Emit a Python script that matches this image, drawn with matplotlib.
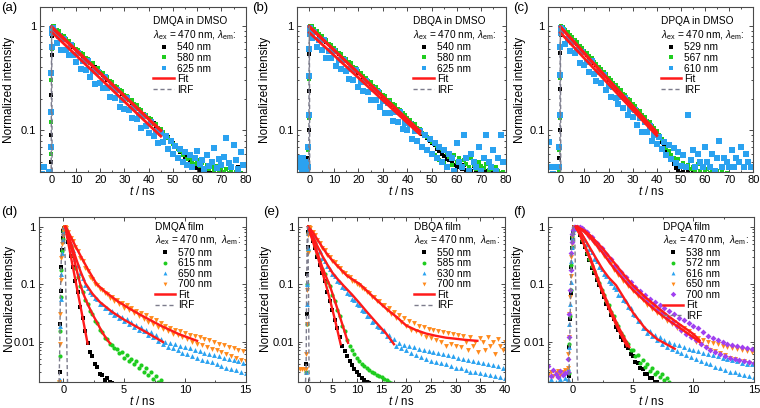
import numpy as np
import matplotlib
matplotlib.use("Agg")
import matplotlib.pyplot as plt
from matplotlib.lines import Line2D
from matplotlib.ticker import FixedLocator, FuncFormatter, LogLocator, MultipleLocator

plt.rcParams['font.family'] = ['Liberation Sans', 'DejaVu Sans']
plt.rcParams['mathtext.fontset'] = 'custom'
plt.rcParams['mathtext.rm'] = 'Liberation Sans'
plt.rcParams['mathtext.it'] = 'Liberation Sans:italic'
plt.rcParams['mathtext.bf'] = 'Liberation Sans:bold'

# ---------------- time channels ----------------
t_top = np.concatenate([np.arange(-4.5, -0.9, 0.5), np.arange(-0.6, 0.5, 0.15), np.arange(1, 80, 1.0)])
t_df = np.concatenate([np.arange(-2.0, -0.5, 0.2), np.arange(-0.4, 0.16, 0.05), np.arange(0.2, 15.01, 0.2)])
t_e = np.concatenate([[-2.0, -1.6, -1.2, -0.8], np.arange(-0.4, 0.35, 0.1), np.arange(0.5, 40.01, 0.5)])

# ---------------- (a) DMQA in DMSO ----------------
a_540 = ([0.030, 0.031, 0.029, 0.032, 0.030, 0.031, 0.029, 0.033] +
         [0.036, 0.050, 0.090, 0.220, 0.520, 0.800, 0.940, 0.990] +
         [0.970, 0.905, 0.872, 0.815, 0.776, 0.748, 0.695, 0.668, 0.625, 0.604,
          0.566, 0.545, 0.511, 0.493, 0.458, 0.444, 0.414, 0.401, 0.374, 0.362,
          0.337, 0.326, 0.303, 0.295, 0.273, 0.267, 0.246, 0.241, 0.222, 0.218,
          0.201, 0.196, 0.181, 0.177, 0.163, 0.160, 0.147, 0.144, 0.133, 0.130,
          0.120, 0.117, 0.108, 0.106, 0.097, 0.094, 0.087, 0.086, 0.078, 0.076,
          0.071, 0.068, 0.062, 0.060, 0.056, 0.054, 0.050, 0.048, 0.046, 0.044,
          0.042, 0.043, 0.041, 0.040, 0.042, 0.039, 0.040, 0.038, 0.041, 0.037,
          0.039, 0.038, 0.036, 0.040, 0.037, 0.038, 0.045, 0.036, 0.037])
a_580 = ([0.031, 0.029, 0.033, 0.030, 0.032, 0.029, 0.031, 0.030] +
         [0.040, 0.060, 0.120, 0.300, 0.600, 0.860, 0.970, 1.000] +
         [0.985, 0.915, 0.893, 0.822, 0.801, 0.748, 0.722, 0.663, 0.655, 0.600,
          0.592, 0.543, 0.537, 0.491, 0.481, 0.444, 0.436, 0.398, 0.397, 0.363,
          0.357, 0.327, 0.321, 0.295, 0.290, 0.266, 0.261, 0.241, 0.236, 0.217,
          0.214, 0.197, 0.193, 0.177, 0.174, 0.159, 0.157, 0.144, 0.141, 0.130,
          0.128, 0.116, 0.115, 0.105, 0.103, 0.096, 0.090, 0.084, 0.081, 0.074,
          0.072, 0.066, 0.064, 0.058, 0.061, 0.053, 0.055, 0.050, 0.048, 0.052,
          0.046, 0.049, 0.044, 0.047, 0.043, 0.045, 0.042, 0.046, 0.041, 0.044,
          0.040, 0.043, 0.039, 0.041, 0.038, 0.040, 0.037, 0.039, 0.038])
a_625 = ([0.036, 0.038, 0.035, 0.045, 0.037, 0.034, 0.036, 0.039] +
         [0.040, 0.070, 0.150, 0.350, 0.620, 0.850, 0.930, 0.960] +
         [0.900, 0.680, 0.790, 0.590, 0.750, 0.590, 0.520, 0.650, 0.530, 0.455,
          0.546, 0.383, 0.462, 0.381, 0.458, 0.321, 0.368, 0.278, 0.358, 0.284,
          0.252, 0.324, 0.252, 0.210, 0.258, 0.203, 0.243, 0.169, 0.197, 0.161,
          0.202, 0.155, 0.132, 0.165, 0.129, 0.141, 0.105, 0.136, 0.109, 0.095,
          0.120, 0.089, 0.099, 0.076, 0.095, 0.078, 0.088, 0.066, 0.079, 0.060,
          0.071, 0.055, 0.066, 0.050, 0.062, 0.047, 0.058, 0.045, 0.055, 0.063,
          0.048, 0.052, 0.043, 0.058, 0.046, 0.050, 0.068, 0.044, 0.053, 0.047,
          0.056, 0.085, 0.049, 0.045, 0.072, 0.052, 0.043, 0.062, 0.047])
fit_t_a = [0, 45]
fit_a_540 = [0.98, 0.100]
fit_a_580 = [0.96, 0.099]
fit_a_625 = [0.87, 0.088]

# ---------------- (b) DBQA in DMSO ----------------
b_540 = ([0.031, 0.030, 0.032, 0.029, 0.031, 0.030, 0.032, 0.030] +
         [0.035, 0.055, 0.100, 0.240, 0.540, 0.820, 0.950, 0.990] +
         [0.968, 0.915, 0.866, 0.818, 0.781, 0.738, 0.702, 0.664, 0.633, 0.598,
          0.571, 0.542, 0.514, 0.490, 0.462, 0.442, 0.417, 0.398, 0.378, 0.357,
          0.343, 0.322, 0.309, 0.291, 0.278, 0.262, 0.252, 0.236, 0.227, 0.213,
          0.206, 0.193, 0.185, 0.174, 0.167, 0.157, 0.151, 0.141, 0.137, 0.127,
          0.124, 0.114, 0.111, 0.104, 0.099, 0.092, 0.089, 0.084, 0.080, 0.076,
          0.072, 0.067, 0.064, 0.059, 0.057, 0.053, 0.052, 0.049, 0.047, 0.045,
          0.046, 0.043, 0.047, 0.042, 0.044, 0.041, 0.046, 0.042, 0.040, 0.043,
          0.039, 0.041, 0.038, 0.040, 0.037, 0.039, 0.036, 0.038, 0.037])
b_580 = ([0.030, 0.032, 0.031, 0.029, 0.033, 0.030, 0.031, 0.032] +
         [0.040, 0.065, 0.130, 0.310, 0.610, 0.870, 0.975, 1.000] +
         [0.985, 0.925, 0.892, 0.828, 0.802, 0.752, 0.725, 0.670, 0.652, 0.606,
          0.590, 0.548, 0.535, 0.496, 0.480, 0.448, 0.436, 0.402, 0.394, 0.366,
          0.356, 0.330, 0.320, 0.298, 0.290, 0.268, 0.261, 0.243, 0.235, 0.219,
          0.213, 0.197, 0.193, 0.178, 0.173, 0.160, 0.157, 0.145, 0.141, 0.130,
          0.127, 0.117, 0.114, 0.106, 0.103, 0.095, 0.092, 0.086, 0.083, 0.077,
          0.058, 0.071, 0.052, 0.066, 0.049, 0.061, 0.056, 0.047, 0.058, 0.050,
          0.054, 0.046, 0.052, 0.048, 0.045, 0.055, 0.047, 0.043, 0.050, 0.046,
          0.044, 0.048, 0.042, 0.046, 0.043, 0.045, 0.041, 0.039, 0.040])
b_625 = ([0.055, 0.045, 0.050, 0.041, 0.055, 0.045, 0.050, 0.041] +
         [0.045, 0.070, 0.140, 0.330, 0.600, 0.840, 0.920, 0.950] +
         [0.760, 0.875, 0.626, 0.733, 0.588, 0.728, 0.496, 0.570, 0.491, 0.569,
          0.410, 0.475, 0.385, 0.473, 0.370, 0.308, 0.385, 0.306, 0.377, 0.262,
          0.290, 0.240, 0.295, 0.231, 0.197, 0.246, 0.195, 0.233, 0.167, 0.189,
          0.147, 0.184, 0.147, 0.123, 0.151, 0.120, 0.149, 0.104, 0.117, 0.101,
          0.115, 0.082, 0.098, 0.079, 0.098, 0.070, 0.090, 0.065, 0.082, 0.060,
          0.075, 0.055, 0.070, 0.050, 0.065, 0.045, 0.060, 0.055, 0.041, 0.075,
          0.050, 0.045, 0.090, 0.055, 0.041, 0.060, 0.050, 0.045, 0.070, 0.041,
          0.055, 0.090, 0.050, 0.045, 0.065, 0.041, 0.055, 0.090, 0.050])
fit_t_b = [0, 45]
fit_b_540 = [0.99, 0.097]
fit_b_580 = [0.97, 0.099]
fit_b_625 = [0.86, 0.092]

# ---------------- (c) DPQA in DMSO ----------------
c_529 = ([0.030, 0.031, 0.029, 0.030, 0.032, 0.030, 0.029, 0.031] +
         [0.035, 0.055, 0.100, 0.250, 0.550, 0.820, 0.950, 0.990] +
         [0.955, 0.895, 0.850, 0.792, 0.752, 0.705, 0.668, 0.624, 0.594, 0.553,
          0.528, 0.491, 0.470, 0.436, 0.418, 0.388, 0.372, 0.344, 0.330, 0.306,
          0.294, 0.271, 0.261, 0.241, 0.233, 0.214, 0.207, 0.190, 0.184, 0.169,
          0.163, 0.150, 0.146, 0.133, 0.130, 0.118, 0.115, 0.105, 0.102, 0.093,
          0.086, 0.078, 0.072, 0.064, 0.058, 0.052, 0.048, 0.044, 0.041, 0.039,
          0.040, 0.038, 0.041, 0.037, 0.039, 0.036, 0.038, 0.035, 0.037, 0.034,
          0.036, 0.035, 0.034, 0.036, 0.033, 0.035, 0.034, 0.033, 0.035, 0.032,
          0.034, 0.033, 0.032, 0.034, 0.031, 0.033, 0.032, 0.031, 0.033])
c_567 = ([0.031, 0.030, 0.032, 0.029, 0.031, 0.032, 0.030, 0.031] +
         [0.040, 0.065, 0.130, 0.320, 0.620, 0.880, 0.980, 1.000] +
         [0.975, 0.918, 0.872, 0.815, 0.778, 0.726, 0.692, 0.645, 0.615, 0.575,
          0.548, 0.510, 0.488, 0.455, 0.434, 0.404, 0.386, 0.360, 0.343, 0.320,
          0.306, 0.284, 0.272, 0.253, 0.243, 0.225, 0.216, 0.200, 0.193, 0.178,
          0.171, 0.158, 0.152, 0.140, 0.135, 0.124, 0.119, 0.110, 0.106, 0.098,
          0.090, 0.082, 0.076, 0.068, 0.064, 0.058, 0.055, 0.050, 0.053, 0.046,
          0.049, 0.044, 0.047, 0.043, 0.045, 0.042, 0.048, 0.041, 0.044, 0.040,
          0.043, 0.039, 0.042, 0.038, 0.041, 0.037, 0.040, 0.036, 0.039, 0.035,
          0.038, 0.035, 0.037, 0.034, 0.036, 0.034, 0.035, 0.033, 0.034])
c_610 = ([0.078, 0.036, 0.045, 0.038, 0.045, 0.037, 0.045, 0.036] +
         [0.045, 0.070, 0.140, 0.340, 0.620, 0.850, 0.930, 0.950] +
         [0.915, 0.667, 0.754, 0.569, 0.700, 0.548, 0.583, 0.444, 0.565, 0.422,
          0.451, 0.361, 0.460, 0.347, 0.298, 0.359, 0.283, 0.337, 0.242, 0.268,
          0.207, 0.260, 0.206, 0.178, 0.209, 0.165, 0.204, 0.139, 0.160, 0.133,
          0.155, 0.112, 0.130, 0.096, 0.119, 0.096, 0.111, 0.080, 0.090, 0.074,
          0.086, 0.066, 0.078, 0.058, 0.072, 0.053, 0.068, 0.049, 0.062, 0.046,
          0.058, 0.045, 0.140, 0.052, 0.065, 0.045, 0.060, 0.050, 0.045, 0.070,
          0.050, 0.045, 0.060, 0.041, 0.055, 0.080, 0.045, 0.055, 0.050, 0.045,
          0.065, 0.045, 0.055, 0.050, 0.070, 0.045, 0.060, 0.050, 0.045])
fit_t_c = [0, 40]
fit_c_529 = [0.98, 0.094]
fit_c_567 = [0.97, 0.096]
fit_c_610 = [0.86, 0.089]

irf_t_top = [-0.5, -0.2, -0.1, 0.0, 0.1, 0.2, 0.5]
irf_y_top = [0.02, 0.03, 0.3, 1.0, 0.3, 0.03, 0.02]

# ---------------- (d) DMQA film ----------------
d_570 = ([0.0010, 0.0011, 0.0010, 0.0012, 0.0010, 0.0011, 0.0010, 0.0012] +
         [0.0012, 0.0016, 0.0030, 0.020, 0.075, 0.20, 0.40, 0.63, 0.85, 0.97, 1.00, 0.95] +
         [0.90, 0.55, 0.31, 0.20, 0.112, 0.072, 0.040, 0.026, 0.015, 0.0095,
          0.0066, 0.0055, 0.0040, 0.0036, 0.0027, 0.0026, 0.0021, 0.0023, 0.0020, 0.0019])
d_615 = ([0.0011, 0.0010, 0.0012, 0.0010, 0.0011, 0.0010, 0.0012, 0.0011] +
         [0.0012, 0.0020, 0.0055, 0.015, 0.060, 0.18, 0.38, 0.62, 0.85, 0.97, 1.00, 0.97] +
         [0.92, 0.69, 0.45, 0.32, 0.195, 0.135, 0.093, 0.074, 0.053, 0.046,
          0.034, 0.030, 0.023, 0.021, 0.016, 0.0145, 0.0115, 0.011, 0.0089, 0.0088,
          0.0076, 0.0075, 0.0063, 0.0066, 0.0052, 0.0058, 0.0046, 0.0050, 0.0040, 0.0045,
          0.0035, 0.0039, 0.0030, 0.0034, 0.0026, 0.0029, 0.0022, 0.0025, 0.0020, 0.0021])
d_650 = ([0.0010, 0.0012, 0.0011, 0.0010, 0.0012, 0.0011, 0.0010, 0.0011] +
         [0.0012, 0.0016, 0.0021, 0.019, 0.055, 0.15, 0.35, 0.60, 0.82, 0.96, 1.00, 0.97] +
         [0.93, 0.71, 0.51, 0.39, 0.275, 0.215, 0.155, 0.128, 0.097, 0.087,
          0.072, 0.068, 0.057, 0.055, 0.046, 0.045, 0.039, 0.039, 0.033, 0.034,
          0.029, 0.030, 0.026, 0.027, 0.023, 0.025, 0.020, 0.022, 0.018, 0.0195,
          0.0160, 0.0178, 0.0150, 0.0162, 0.0128, 0.0148, 0.0118, 0.0130, 0.0102, 0.0112,
          0.0092, 0.0100, 0.0082, 0.0094, 0.0076, 0.0090, 0.0070, 0.0085, 0.0064, 0.0080,
          0.0060, 0.0078, 0.0056, 0.0070, 0.0052, 0.0068, 0.0048, 0.0062, 0.0045, 0.0060,
          0.0044, 0.0058, 0.0040, 0.0055, 0.0037, 0.0052, 0.0035, 0.0050, 0.0033, 0.0047,
          0.0032, 0.0045, 0.0030, 0.0042, 0.0028])
d_700 = ([0.0011, 0.0010, 0.0011, 0.0012, 0.0010, 0.0011, 0.0012, 0.0010] +
         [0.0012, 0.0020, 0.0090, 0.030, 0.12, 0.29, 0.50, 0.70, 0.88, 0.97, 1.00, 0.99] +
         [0.96, 0.81, 0.65, 0.56, 0.44, 0.38, 0.29, 0.255, 0.195, 0.17,
          0.135, 0.124, 0.101, 0.097, 0.082, 0.080, 0.069, 0.068, 0.058, 0.059,
          0.050, 0.053, 0.045, 0.047, 0.039, 0.043, 0.035, 0.039, 0.031, 0.034,
          0.028, 0.031, 0.025, 0.029, 0.022, 0.026, 0.020, 0.0235, 0.018, 0.021,
          0.0165, 0.0190, 0.0150, 0.0175, 0.0138, 0.0162, 0.0128, 0.0150, 0.0118, 0.0140,
          0.0110, 0.0130, 0.0100, 0.0125, 0.0092, 0.0118, 0.0086, 0.0110, 0.0080, 0.0105,
          0.0074, 0.0100, 0.0070, 0.0092, 0.0065, 0.0088, 0.0060, 0.0082, 0.0056, 0.0078,
          0.0052, 0.0072, 0.0048, 0.0068, 0.0045])
fit_d_570_t = [0.15, 0.6, 1.0, 1.5, 2.0]
fit_d_570 = [1.0, 0.32, 0.116, 0.033, 0.0092]
fit_d_615_t = [0.15, 0.4, 0.6, 0.8, 1.0, 1.2, 1.4, 1.7, 2.0, 2.4, 2.8, 3.2, 3.6, 3.85]
fit_d_615 = [1.0, 0.70, 0.48, 0.33, 0.215, 0.145, 0.098, 0.064, 0.045, 0.030, 0.021, 0.0145, 0.0108, 0.0093]
fit_d_650_t = [0.15, 0.4, 0.7, 1.0, 1.4, 1.8, 2.4, 3.0, 4.0, 5.0, 6.0, 7.0, 8.2]
fit_d_650 = [1.0, 0.73, 0.47, 0.30, 0.17, 0.105, 0.068, 0.049, 0.033, 0.024, 0.0182, 0.0138, 0.0098]
fit_d_700_t = [0.2, 0.5, 1.0, 1.5, 2.0, 2.75, 3.5, 4.5, 5.5, 6.5, 8.0, 9.5, 11.0]
fit_d_700 = [1.0, 0.75, 0.46, 0.29, 0.185, 0.10, 0.072, 0.050, 0.037, 0.028, 0.019, 0.0135, 0.0103]
irf_t_d = [-0.5, -0.35, -0.3, -0.25, -0.15, -0.05, 0.05, 0.15, 0.25, 0.3, 0.35, 0.5]
irf_y_d = [0.0015, 0.0018, 0.006, 0.05, 0.4, 0.95, 0.9, 0.3, 0.03, 0.006, 0.0018, 0.0015]

# ---------------- (e) DBQA film ----------------
e_550 = ([0.0015, 0.0015, 0.0015, 0.0015] +
         [0.0015, 0.004, 0.03, 0.15, 0.45, 0.80, 0.97, 1.00] +
         [0.78, 0.57, 0.43, 0.30, 0.22, 0.155, 0.112, 0.072, 0.050, 0.035,
          0.024, 0.017, 0.012, 0.0085, 0.0068, 0.0055, 0.0046, 0.0039, 0.0033, 0.0029,
          0.0026, 0.0023, 0.0021, 0.0020, 0.0019])
e_585 = ([0.0015, 0.0015, 0.0015, 0.0015] +
         [0.0015, 0.003, 0.02, 0.10, 0.40, 0.78, 0.96, 1.00] +
         [0.83, 0.61, 0.47, 0.33, 0.26, 0.185, 0.15, 0.11, 0.092, 0.066,
          0.051, 0.036, 0.028, 0.019, 0.0155, 0.0108, 0.0085, 0.0070, 0.0060, 0.0052,
          0.0046, 0.0041, 0.0037, 0.0034, 0.0032, 0.0030, 0.0028, 0.0026, 0.0025, 0.0024,
          0.0022, 0.0021, 0.0020, 0.0019])
e_630 = ([0.0015, 0.0015, 0.0015, 0.0015] +
         [0.0015, 0.003, 0.045, 0.10, 0.42, 0.78, 0.96, 1.00] +
         [0.87, 0.69, 0.57, 0.44, 0.38, 0.29, 0.255, 0.205, 0.185, 0.150,
          0.138, 0.114, 0.108, 0.089, 0.085, 0.071, 0.068, 0.056, 0.054, 0.045,
          0.043, 0.035, 0.034, 0.028, 0.028, 0.022, 0.0225, 0.0185, 0.018, 0.0150,
          0.0160, 0.0125, 0.0130, 0.0105, 0.0110, 0.0085, 0.0095, 0.0078, 0.0088, 0.0070,
          0.0085, 0.0062, 0.0080, 0.0058, 0.0075, 0.0054, 0.0072, 0.0050, 0.0068, 0.0046,
          0.0066, 0.0044, 0.0062, 0.0042, 0.0060, 0.0040, 0.0058, 0.0038, 0.0055, 0.0035,
          0.0052, 0.0034, 0.0050, 0.0032, 0.0048, 0.0030, 0.0046, 0.0029, 0.0044, 0.0028,
          0.0042, 0.0027, 0.0040, 0.0026, 0.0039, 0.0025, 0.0037, 0.0024, 0.0035, 0.0023])
e_700 = ([0.0033, 0.0033, 0.0033, 0.0033] +
         [0.0033, 0.006, 0.02, 0.08, 0.35, 0.72, 0.95, 1.00] +
         [0.94, 0.81, 0.71, 0.59, 0.52, 0.43, 0.39, 0.32, 0.30, 0.25,
          0.24, 0.205, 0.195, 0.165, 0.158, 0.138, 0.132, 0.115, 0.113, 0.099,
          0.097, 0.086, 0.083, 0.072, 0.070, 0.060, 0.059, 0.050, 0.050, 0.043,
          0.044, 0.036, 0.038, 0.030, 0.033, 0.026, 0.029, 0.022, 0.026, 0.019,
          0.023, 0.016, 0.021, 0.015, 0.019, 0.0135, 0.018, 0.012, 0.0165, 0.0115,
          0.0160, 0.0105, 0.0150, 0.0100, 0.0145, 0.0085, 0.0140, 0.0090, 0.0135, 0.0085,
          0.0130, 0.0080, 0.0125, 0.0100, 0.0070, 0.0120, 0.0085, 0.0100, 0.0065, 0.0115,
          0.0100, 0.0070, 0.0120, 0.0085, 0.0100, 0.0060, 0.0110, 0.0085, 0.0070, 0.0100])
fit_e_550_t = [0.1, 1, 2, 3, 3.7, 4.5, 5.5, 6.7]
fit_e_550 = [1.0, 0.58, 0.31, 0.16, 0.10, 0.055, 0.025, 0.009]
fit_e_585_t = [0.1, 1, 2, 3, 4, 4.5, 5.5, 6.5, 7.5, 8.2]
fit_e_585 = [1.0, 0.62, 0.35, 0.195, 0.12, 0.095, 0.052, 0.028, 0.015, 0.0095]
fit_e_630_t = [0.1, 1, 2, 3, 4, 5, 6, 7.4, 9, 10.5, 12, 14, 16, 17.5]
fit_e_630 = [1.0, 0.70, 0.46, 0.31, 0.22, 0.16, 0.125, 0.092, 0.066, 0.047, 0.033, 0.021, 0.0135, 0.009]
fit_e_700_t = [0.1, 1, 2, 3, 4, 5, 6, 8, 10.6, 12, 14, 16, 18, 20, 22, 24, 26, 28, 30, 32, 34.4]
fit_e_700 = [1.0, 0.82, 0.60, 0.44, 0.33, 0.26, 0.21, 0.14, 0.10, 0.077, 0.053, 0.037, 0.027,
             0.019, 0.0158, 0.0138, 0.0126, 0.0117, 0.0112, 0.0107, 0.0103]
irf_t_e = [-0.5, -0.3, -0.2, -0.1, 0.0, 0.1, 0.2, 0.3, 0.5]
irf_y_e = [0.0015, 0.003, 0.06, 0.5, 1.0, 0.5, 0.06, 0.003, 0.0015]

# ---------------- (f) DPQA film ----------------
f_538 = ([0.0015] * 8 +
         [0.0012, 0.0015, 0.0025, 0.008, 0.025, 0.07, 0.20, 0.42, 0.65, 0.82, 0.93, 0.98] +
         [1.00, 0.93, 0.73, 0.55, 0.44, 0.33, 0.265, 0.195, 0.158, 0.118,
          0.097, 0.073, 0.061, 0.046, 0.039, 0.029, 0.025, 0.018, 0.016, 0.0122,
          0.0108, 0.0084, 0.0077, 0.0060, 0.0056, 0.0044, 0.0042, 0.0034, 0.0033, 0.0027,
          0.0027, 0.0023, 0.0023, 0.0020, 0.0020])
f_572 = ([0.0015] * 8 +
         [0.0012, 0.0015, 0.0028, 0.009, 0.028, 0.08, 0.22, 0.45, 0.68, 0.85, 0.95, 0.99] +
         [0.99, 0.95, 0.76, 0.58, 0.46, 0.35, 0.28, 0.21, 0.168, 0.127,
          0.104, 0.080, 0.066, 0.051, 0.043, 0.033, 0.028, 0.021, 0.0185, 0.0142,
          0.0125, 0.0098, 0.0092, 0.0072, 0.0070, 0.0055, 0.0058, 0.0043, 0.0047, 0.0036,
          0.0040, 0.0031, 0.0035, 0.0027, 0.0030, 0.0024, 0.0027, 0.0021, 0.0023, 0.0020])
f_616 = ([0.0018, 0.0022, 0.0016, 0.0020, 0.0017, 0.0022, 0.0019, 0.0023] +
         [0.0022, 0.0035, 0.008, 0.02, 0.045, 0.11, 0.25, 0.45, 0.65, 0.82, 0.92, 0.97] +
         [0.99, 0.97, 0.84, 0.73, 0.59, 0.51, 0.41, 0.36, 0.28, 0.25,
          0.20, 0.185, 0.150, 0.138, 0.114, 0.106, 0.088, 0.081, 0.066, 0.064,
          0.053, 0.050, 0.040, 0.038, 0.030, 0.029, 0.023, 0.0225, 0.0175, 0.0175,
          0.0140, 0.0155, 0.0125, 0.0132, 0.0105, 0.0118, 0.0092, 0.0108, 0.0082, 0.0100,
          0.0075, 0.0092, 0.0068, 0.0088, 0.0062, 0.0080, 0.0058, 0.0075, 0.0053, 0.0072,
          0.0050, 0.0068, 0.0046, 0.0064, 0.0042, 0.0060, 0.0040, 0.0058, 0.0036, 0.0055,
          0.0034, 0.0052, 0.0032, 0.0050, 0.0030, 0.0047, 0.0029, 0.0045, 0.0027, 0.0043,
          0.0026, 0.0041, 0.0025, 0.0040, 0.0024])
f_650 = ([0.0026, 0.0030, 0.0025, 0.0028, 0.0031, 0.0026, 0.0029, 0.0032] +
         [0.0035, 0.006, 0.012, 0.03, 0.06, 0.14, 0.30, 0.50, 0.70, 0.85, 0.94, 0.98] +
         [0.99, 1.00, 0.96, 0.93, 0.80, 0.75, 0.64, 0.61, 0.52, 0.48,
          0.40, 0.38, 0.31, 0.30, 0.24, 0.23, 0.18, 0.175, 0.145, 0.14,
          0.115, 0.110, 0.094, 0.092, 0.075, 0.075, 0.063, 0.062, 0.052, 0.052,
          0.044, 0.045, 0.037, 0.038, 0.031, 0.033, 0.027, 0.029, 0.023, 0.025,
          0.020, 0.022, 0.0175, 0.019, 0.015, 0.0175, 0.0135, 0.0150, 0.0118, 0.0132,
          0.0100, 0.0115, 0.0092, 0.0108, 0.0080, 0.0100, 0.0072, 0.0095, 0.0068, 0.0090,
          0.0062, 0.0085, 0.0058, 0.0082, 0.0052, 0.0078, 0.0050, 0.0075, 0.0046, 0.0070,
          0.0045, 0.0068, 0.0042, 0.0065, 0.0040])
f_700 = ([0.0038, 0.0025, 0.0032, 0.0027, 0.0024, 0.0031, 0.0026, 0.0028] +
         [0.0030, 0.005, 0.012, 0.03, 0.08, 0.18, 0.35, 0.55, 0.75, 0.88, 0.96, 0.99] +
         [0.98, 1.00, 1.00, 0.95, 0.86, 0.80, 0.70, 0.66, 0.57, 0.53,
          0.45, 0.43, 0.35, 0.34, 0.28, 0.27, 0.21, 0.21, 0.17, 0.165,
          0.135, 0.132, 0.110, 0.108, 0.088, 0.090, 0.072, 0.076, 0.060, 0.064,
          0.050, 0.056, 0.042, 0.048, 0.036, 0.043, 0.031, 0.038, 0.026, 0.034,
          0.022, 0.030, 0.019, 0.026, 0.016, 0.024, 0.0135, 0.021, 0.0118, 0.019,
          0.0105, 0.017, 0.0092, 0.0145, 0.0080, 0.0125, 0.0072, 0.0115, 0.0065, 0.0105,
          0.0060, 0.0098, 0.0056, 0.0092, 0.0052, 0.0088, 0.0050, 0.0085, 0.0048, 0.0080,
          0.0046, 0.0078, 0.0044, 0.0075, 0.0042])
fit_f_538_t = [0.25, 0.6, 1.0, 1.5, 2.2, 3.0, 3.8, 4.5]
fit_f_538 = [1.0, 0.74, 0.46, 0.26, 0.10, 0.038, 0.016, 0.0083]
fit_f_572_t = [0.25, 0.6, 1.0, 1.5, 2.2, 3.0, 3.8, 4.7]
fit_f_572 = [1.0, 0.76, 0.48, 0.28, 0.11, 0.042, 0.018, 0.008]
fit_f_616_t = [0.35, 0.7, 1.0, 1.5, 2.0, 2.5, 3.0, 3.6, 4.2, 5.0, 6.0, 7.0, 8.45]
fit_f_616 = [1.0, 0.80, 0.62, 0.41, 0.27, 0.18, 0.13, 0.096, 0.060, 0.032, 0.017, 0.011, 0.0075]
fit_f_650_t = [0.4, 1.0, 1.5, 2.0, 2.5, 3.0, 3.5, 4.0, 4.55, 5, 6, 7, 8, 9, 10, 10.5]
fit_f_650 = [1.0, 0.81, 0.63, 0.47, 0.35, 0.25, 0.18, 0.135, 0.10, 0.079, 0.050, 0.033, 0.023, 0.0166, 0.0118, 0.0098]
fit_f_700_t = [0.4, 1.0, 1.5, 2.0, 2.5, 3.0, 3.5, 4.0, 4.9, 6, 7, 8, 9, 10, 10.5]
fit_f_700 = [1.0, 0.86, 0.70, 0.54, 0.42, 0.31, 0.23, 0.17, 0.10, 0.060, 0.040, 0.027, 0.019, 0.0135, 0.0105]
irf_t_f = [-0.5, -0.3, -0.2, -0.1, 0.0, 0.1, 0.2, 0.3, 0.4, 0.5]
irf_y_f = [0.0015, 0.002, 0.02, 0.3, 0.9, 1.0, 0.5, 0.05, 0.003, 0.0015]

# ---------------- styles ----------------
C_BLK = '#000000'
C_GRN = '#1fcc1f'
C_BLU = '#2aa2f0'
C_ORA = '#ff8a1c'
C_PUR = '#a040f0'
C_FIT = '#ff1a1a'
C_IRF = '#7c7c8c'
SPINE = '#4a4a4a'

LAM = r'$\lambda_{\rm ex}$ = 470 nm, $\lambda_{\rm em}$:'
LAM2 = r'$\lambda_{\rm ex}$ = 470 nm,  $\lambda_{\rm em}$:'

fig = plt.figure(figsize=(7.6, 4.08), dpi=100)

rects = {
    'a': [0.0520, 0.5784, 0.2713, 0.4037],
    'b': [0.3908, 0.5784, 0.2746, 0.4037],
    'c': [0.7214, 0.5784, 0.2697, 0.4037],
    'd': [0.0513, 0.0645, 0.2720, 0.4044],
    'e': [0.3917, 0.0645, 0.2728, 0.4044],
    'f': [0.7214, 0.0645, 0.2707, 0.4044],
}
ylab_x = {'a': -0.119, 'b': -0.125, 'c': -0.110, 'd': -0.113, 'e': -0.124, 'f': -0.118}
panel_lab = {'a': (1, 2), 'b': (252, 2), 'c': (513, 2), 'd': (1, 206), 'e': (263, 206), 'f': (513, 206)}


def style(ax, key, xlim, xmaj, xmin, ylim, yticks):
    ax.set_yscale('log')
    ax.set_xlim(*xlim)
    ax.set_ylim(*ylim)
    ax.xaxis.set_major_locator(MultipleLocator(xmaj))
    ax.xaxis.set_minor_locator(MultipleLocator(xmin))
    ax.yaxis.set_major_locator(FixedLocator(yticks))
    ax.yaxis.set_major_formatter(FuncFormatter(lambda v, p: '%g' % v))
    ax.yaxis.set_minor_locator(LogLocator(base=10, subs=np.arange(2, 10)))
    ax.yaxis.set_minor_formatter(FuncFormatter(lambda v, p: ''))
    ax.tick_params(which='both', direction='in', top=True, right=True, color=SPINE,
                   labelsize=8, width=0.7, pad=2.5)
    ax.tick_params(which='major', length=3)
    ax.tick_params(which='minor', length=1.7)
    for s in ax.spines.values():
        s.set_color(SPINE)
        s.set_linewidth(0.8)
    ax.set_ylabel('Normalized intensity', fontsize=8.5)
    ax.yaxis.set_label_coords(ylab_x[key], 0.5)
    ax.set_xlabel(r'$t$ / ns', fontsize=8.3, va='center')
    ax.xaxis.set_label_coords(0.5, -0.118)
    px, py = panel_lab[key]
    fig.text(px / 760, 1 - py / 408, '(%s)' % key, fontsize=9.5, ha='left', va='top')


def scatter(ax, t, y, color, marker, ms):
    pts = list(zip(t, y))
    tt = [p[0] for p in pts]
    yy = [p[1] for p in pts]
    ax.plot(tt, yy, ls='none', marker=marker, ms=ms, color=color, mew=0, zorder=2)


def legend(ax, name, lam, entries, pad, fs=7.3):
    handles = [Line2D([], [], ls='none', marker=m, ms=lms, color=c, mew=0) for (lab, c, m, lms) in entries]
    labels = [e[0] for e in entries]
    handles += [Line2D([], [], color=C_FIT, lw=1.8),
                Line2D([], [], color=C_IRF, lw=1.0, dashes=(3, 2))]
    labels += ['Fit', 'IRF']
    leg = ax.legend(handles, labels, title=name + '\n' + lam, loc='upper right', frameon=False,
                    fontsize=fs, title_fontsize=fs, handlelength=2.0, handletextpad=0.3,
                    labelspacing=0.05, borderaxespad=pad, borderpad=0.2, alignment='left')
    leg.set_zorder(10)


# ---------------- top row ----------------
top = [
    ('a', 'DMQA in DMSO', [(a_540, '540 nm', C_BLK), (a_580, '580 nm', C_GRN), (a_625, '625 nm', C_BLU)],
     fit_t_a, [fit_a_540, fit_a_580, fit_a_625]),
    ('b', 'DBQA in DMSO', [(b_540, '540 nm', C_BLK), (b_580, '580 nm', C_GRN), (b_625, '625 nm', C_BLU)],
     fit_t_b, [fit_b_540, fit_b_580, fit_b_625]),
    ('c', 'DPQA in DMSO', [(c_529, '529 nm', C_BLK), (c_567, '567 nm', C_GRN), (c_610, '610 nm', C_BLU)],
     fit_t_c, [fit_c_529, fit_c_567, fit_c_610]),
]
for key, name, series, ft, fits in top:
    ax = fig.add_axes(rects[key])
    sizes = [2.8, 3.0, 3.7]
    for (y, lab, c), ms in zip(series, sizes):
        scatter(ax, t_top, y, c, 's', ms)
    for fy in fits:
        ax.plot(ft, fy, color=C_FIT, lw=2.0, zorder=4)
    ax.plot(irf_t_top, irf_y_top, color=C_IRF, lw=1.0, dashes=(3, 2), zorder=5)
    style(ax, key, (-5, 80), 10, 5, (0.04, 1.5), [0.1, 1])
    legend(ax, name, LAM, [(lab, c, 's', 2.6) for (y, lab, c) in series], pad=0.7)

# ---------------- bottom row ----------------
bottom = [
    ('d', 'DMQA film', t_df, (-2, 15), 5, 2.5,
     [(d_570, '570 nm', C_BLK, 's', 3.0), (d_615, '615 nm', C_GRN, 'o', 3.0),
      (d_650, '650 nm', C_BLU, '^', 3.5), (d_700, '700 nm', C_ORA, 'v', 3.5)],
     [(fit_d_570_t, fit_d_570), (fit_d_615_t, fit_d_615), (fit_d_650_t, fit_d_650), (fit_d_700_t, fit_d_700)],
     (irf_t_d, irf_y_d)),
    ('e', 'DBQA film', t_e, (-2, 40), 5, 2.5,
     [(e_550, '550 nm', C_BLK, 's', 3.0), (e_585, '585 nm', C_GRN, 'o', 3.0),
      (e_630, '630 nm', C_BLU, '^', 3.5), (e_700, '700 nm', C_ORA, 'v', 3.5)],
     [(fit_e_550_t, fit_e_550), (fit_e_585_t, fit_e_585), (fit_e_630_t, fit_e_630), (fit_e_700_t, fit_e_700)],
     (irf_t_e, irf_y_e)),
    ('f', 'DPQA film', t_df, (-2, 15), 5, 2.5,
     [(f_538, '538 nm', C_BLK, 's', 3.0), (f_572, '572 nm', C_GRN, 'o', 3.0),
      (f_616, '616 nm', C_BLU, '^', 3.5), (f_650, '650 nm', C_ORA, 'v', 3.5),
      (f_700, '700 nm', C_PUR, 'D', 3.0)],
     [(fit_f_538_t, fit_f_538), (fit_f_572_t, fit_f_572), (fit_f_616_t, fit_f_616),
      (fit_f_650_t, fit_f_650), (fit_f_700_t, fit_f_700)],
     (irf_t_f, irf_y_f)),
]
for key, name, tgrid, xlim, xmaj, xmin, series, fits, irf in bottom:
    ax = fig.add_axes(rects[key])
    for y, lab, c, m, ms in series:
        scatter(ax, tgrid, y, c, m, ms)
    for ft, fy in fits:
        ax.plot(ft, fy, color=C_FIT, lw=1.7, zorder=4)
    ax.plot(irf[0], irf[1], color=C_IRF, lw=1.0, dashes=(3, 2), zorder=5)
    style(ax, key, xlim, xmaj, xmin, (0.002, 1.5), [0.01, 0.1, 1])
    legend(ax, name, LAM2, [(lab, c, m, 2.8) for (y, lab, c, m, ms) in series], pad=0.3)

fig.savefig('out.png', dpi=100)
